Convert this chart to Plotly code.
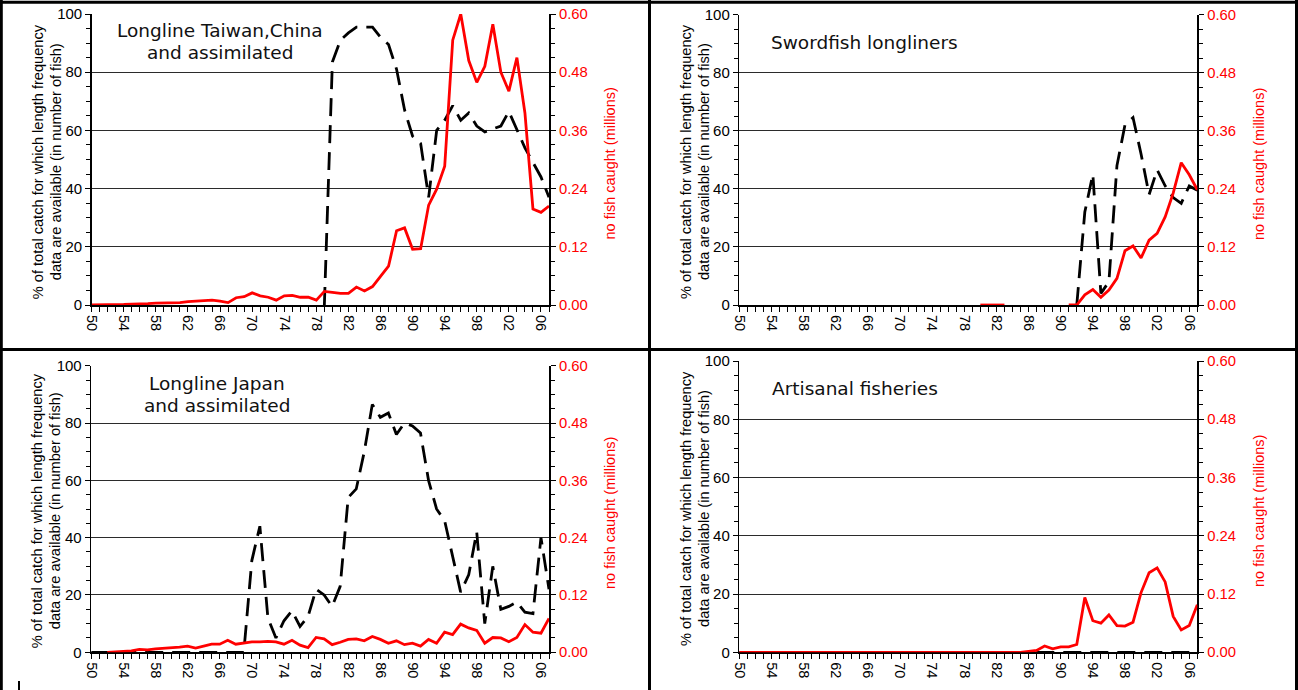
import plotly.graph_objects as go

# ---------------- data ----------------
years = list(range(1950, 2008))
tick_years = [1950, 1954, 1958, 1962, 1966, 1970, 1974, 1978, 1982, 1986, 1990, 1994, 1998, 2002, 2006]
tick_labels = ["50", "54", "58", "62", "66", "70", "74", "78", "82", "86", "90", "94", "98", "02", "06"]

left_ticks = [0, 20, 40, 60, 80, 100]
right_ticks = [0.0, 0.12, 0.24, 0.36, 0.48, 0.60]

# % of total catch with length frequency data (black dashed, left axis)
taiwan_pct = [None, None, None, None, None, None, None, None, None, None,
              None, None, None, None, None, None, None, None, None, None,
              None, None, None, None, None, None, None, None, None, 0,
              83.5, 91, 93.5, 95.5, 95.5, 95.5, 92, 89.5, 81, 67,
              58, 55.5, 37, 60, 63.5, 68.5, 63.5, 66, 61.5, 59.5,
              60.5, 61.5, 66.5, 60, 54, 49, 44, 37]
# number of fish caught, millions (red, right axis)
taiwan_fish = [0.000, 0.000, 0.001, 0.001, 0.001, 0.002, 0.002, 0.003, 0.004, 0.004,
               0.005, 0.005, 0.007, 0.008, 0.010, 0.010, 0.008, 0.005, 0.015, 0.017,
               0.025, 0.019, 0.016, 0.010, 0.019, 0.020, 0.016, 0.016, 0.010, 0.028,
               0.026, 0.024, 0.024, 0.037, 0.029, 0.038, 0.059, 0.080, 0.153, 0.159,
               0.115, 0.116, 0.206, 0.239, 0.286, 0.546, 0.600, 0.504, 0.459, 0.492,
               0.579, 0.480, 0.441, 0.510, 0.396, 0.198, 0.191, 0.204]

swordfish_pct = [None, None, None, None, None, None, None, None, None, None,
                 None, None, None, None, None, None, None, None, None, None,
                 None, None, None, None, None, None, None, None, None, None,
                 None, None, None, None, None, None, None, None, None, None,
                 None, None, 0, 32, 45, 4, 8, 48, 62, 64.5,
                 52, 38, 46.5, 41, 37, 35, 41, 39.5]
swordfish_fish = [None, None, None, None, None, None, None, None, None, None,
                  None, None, None, None, None, None, None, None, None, None,
                  None, None, None, None, None, None, None, None, None, None,
                  0.000, 0.000, 0.000, 0.000, None, None, None, None, None, None,
                  None, 0.000, 0.000, 0.021, 0.032, 0.016, 0.031, 0.055, 0.112, 0.122,
                  0.097, 0.134, 0.148, 0.182, 0.231, 0.294, 0.269, 0.238]

japan_pct = [0, 0, 0, 0, 0, 0, 0, 0, 0, 0,
             0, 0, 0, 0, 0, 0, 0, 0, 0, 0,
             32, 44, 12, 5, 11, 14.5, 9, 12.5, 22, 20,
             16, 23, 54, 57, 70, 86.5, 82, 83.5, 76, 80,
             79, 76.5, 60, 50, 46, 33, 21, 27, 42, 10,
             30, 15, 16, 17.5, 14, 13.5, 40, 22]
japan_fish = [None, None, 0.000, 0.001, 0.002, 0.003, 0.006, 0.005, 0.007, 0.008,
              0.010, 0.011, 0.013, 0.009, 0.013, 0.017, 0.017, 0.025, 0.017, 0.019,
              0.022, 0.022, 0.023, 0.022, 0.017, 0.025, 0.015, 0.010, 0.031, 0.028,
              0.016, 0.021, 0.027, 0.028, 0.024, 0.033, 0.027, 0.019, 0.024, 0.016,
              0.019, 0.013, 0.027, 0.019, 0.042, 0.037, 0.059, 0.051, 0.046, 0.019,
              0.031, 0.030, 0.022, 0.031, 0.058, 0.042, 0.040, 0.071]

artisanal_pct = [0, 0, 0, 0, 0, 0, 0, 0, 0, 0,
                 0, 0, 0, 0, 0, 0, 0, 0, 0, 0,
                 0, 0, 0, 0, 0, 0, 0, 0, 0, 0,
                 0, 0, 0, 0, 0, 0, 0, 0, 0, 0,
                 0, 0, 0, 0, 0, 0, 0, 0, 0, 0,
                 0, 0, 0, 0, 0, 0, 0, 0]
artisanal_fish = [0, 0, 0, 0, 0, 0, 0, 0, 0, 0,
                  0, 0, 0, 0, 0, 0, 0, 0, 0, 0,
                  0, 0, 0, 0, 0, 0, 0, 0, 0, 0,
                  0, 0, 0, 0, 0, 0, 0.002, 0.004, 0.013, 0.007,
                  0.011, 0.011, 0.016, 0.113, 0.065, 0.060, 0.077, 0.055, 0.054, 0.062,
                  0.123, 0.164, 0.174, 0.145, 0.074, 0.046, 0.055, 0.098]

panel_titles = [["Longline Taiwan,China", "and assimilated"],
                ["Swordfish longliners"],
                ["Longline Japan", "and assimilated"],
                ["Artisanal fisheries"]]
left_title = ["% of total catch for which length frequency",
              "data are available (in number of fish)"]
right_title = "no fish caught (millions)"

# ---------------- layout helpers ----------------
W, H = 1298, 690
RED = "#ff0000"
ARIAL = "Liberation Sans, Arial, sans-serif"
TAHOMA = "DejaVu Sans, Verdana, sans-serif"


def px_x(v):
    return v / W


def px_y(v):
    return 1 - v / H


# plot boxes (left, top, right, bottom) in pixels
boxes = [(91.7, 14.0, 549.0, 305.0),
         (739.3, 14.5, 1197.3, 305.0),
         (91.2, 365.7, 549.0, 652.3),
         (739.3, 361.0, 1197.3, 652.3)]
title_pos = [dict(x=219.5, ys=[30.2, 52.8], anchor="center"),
             dict(x=769.4, ys=[42.9], anchor="left"),
             dict(x=216.5, ys=[383.0, 405.3], anchor="center"),
             dict(x=770.0, ys=[388.6], anchor="left")]

pct_series = [taiwan_pct, swordfish_pct, japan_pct, artisanal_pct]
fish_series = [taiwan_fish, swordfish_fish, japan_fish, artisanal_fish]

fig = go.Figure()
layout = dict(width=W, height=H,
              margin=dict(l=0, r=0, t=0, b=0, pad=0, autoexpand=False),
              paper_bgcolor="white", plot_bgcolor="white", showlegend=False)
annotations = []
shapes = []

for i in range(4):
    l, t, r, b = boxes[i]
    xname = "x" if i == 0 else f"x{i + 1}"
    yl = 2 * i + 1
    yr = 2 * i + 2
    ylname = "y" if yl == 1 else f"y{yl}"
    yrname = f"y{yr}"

    fig.add_trace(go.Scatter(x=years, y=pct_series[i], mode="lines",
                             line=dict(color="black", width=2.8, dash="18px,9px"),
                             xaxis=xname, yaxis=ylname, connectgaps=False,
                             hoverinfo="skip"))
    fig.add_trace(go.Scatter(x=years, y=fish_series[i], mode="lines",
                             line=dict(color=RED, width=2.8),
                             xaxis=xname, yaxis=yrname, connectgaps=False,
                             hoverinfo="skip"))

    layout["xaxis" if i == 0 else f"xaxis{i + 1}"] = dict(
        domain=[px_x(l), px_x(r)], anchor=ylname, range=[1950, 2007],
        tickmode="array", tickvals=tick_years, ticktext=tick_labels,
        tickangle=90, ticks="outside", ticklen=5, tickwidth=1, tickcolor="black",
        minor=dict(tickmode="array", tickvals=years, ticks="outside", ticklen=5,
                   tickwidth=1, tickcolor="black", showgrid=False),
        tickfont=dict(family=ARIAL, size=14.5, color="black"),
        showline=True, linecolor="black", linewidth=2, showgrid=False,
        zeroline=False, layer="below traces", fixedrange=True, automargin=False)
    layout["yaxis" if yl == 1 else f"yaxis{yl}"] = dict(
        domain=[px_y(b), px_y(t)], anchor=xname, range=[0, 100],
        tickmode="array", tickvals=left_ticks, ticks="outside", ticklen=5,
        tickwidth=1, tickcolor="black",
        minor=dict(tickmode="linear", tick0=0, dtick=5, ticks="outside", ticklen=4,
                   tickwidth=1, tickcolor="black", showgrid=False),
        tickfont=dict(family=ARIAL, size=15, color="black"),
        showline=True, linecolor="black", linewidth=1.5,
        showgrid=True, gridcolor="#2b2b2b", gridwidth=1,
        zeroline=False, layer="below traces", fixedrange=True, automargin=False)
    layout[f"yaxis{yr}"] = dict(
        overlaying=ylname, side="right", anchor=xname, range=[0, 0.6],
        tickmode="array", tickvals=right_ticks, tickformat=".2f",
        ticks="outside", ticklen=5, tickwidth=1, tickcolor="black",
        minor=dict(tickmode="linear", tick0=0, dtick=0.03, ticks="outside", ticklen=4,
                   tickwidth=1, tickcolor="black", showgrid=False),
        tickfont=dict(family=ARIAL, size=14.8, color=RED),
        showline=True, linecolor="black", linewidth=2, showgrid=False,
        zeroline=False, layer="below traces", fixedrange=True, automargin=False)

    # axis titles
    cy = (t + b) / 2 + 2
    for k, off in enumerate([-54, -36]):
        annotations.append(dict(xref="paper", yref="paper", x=px_x(l + off), y=px_y(cy),
                                text=left_title[k], textangle=-90, showarrow=False,
                                xanchor="center", yanchor="middle",
                                font=dict(family=ARIAL, size=14.6, color="black")))
    annotations.append(dict(xref="paper", yref="paper", x=px_x(r + 61), y=px_y(cy + 2),
                            text=right_title, textangle=-90, showarrow=False,
                            xanchor="center", yanchor="middle",
                            font=dict(family=ARIAL, size=14.5, color=RED)))
    # panel titles
    tp = title_pos[i]
    for line, yy in zip(panel_titles[i], tp["ys"]):
        annotations.append(dict(xref="paper", yref="paper", x=px_x(tp["x"]), y=px_y(yy),
                                text=line, showarrow=False, xanchor=tp["anchor"],
                                yanchor="middle",
                                font=dict(family=TAHOMA, size=18.5, color="#111111")))

# frame of the table around the four charts
frame = [(0, 2.3, W, 2.3), (1.3, 0, 1.3, H), (649.5, 0, 649.5, H),
         (0, 349.5, W, 349.5), (1296.5, 0, 1296.5, H)]
for x0, y0, x1, y1 in frame:
    shapes.append(dict(type="line", xref="paper", yref="paper",
                       x0=px_x(x0), y0=px_y(y0), x1=px_x(x1), y1=px_y(y1),
                       line=dict(color="black", width=3)))
shapes.append(dict(type="line", xref="paper", yref="paper",
                   x0=px_x(19), y0=px_y(681), x1=px_x(19), y1=px_y(690),
                   line=dict(color="black", width=2)))

layout["annotations"] = annotations
layout["shapes"] = shapes
fig.update_layout(**layout)
fig.write_html("out.html", config={"displayModeBar": False, "staticPlot": True})
